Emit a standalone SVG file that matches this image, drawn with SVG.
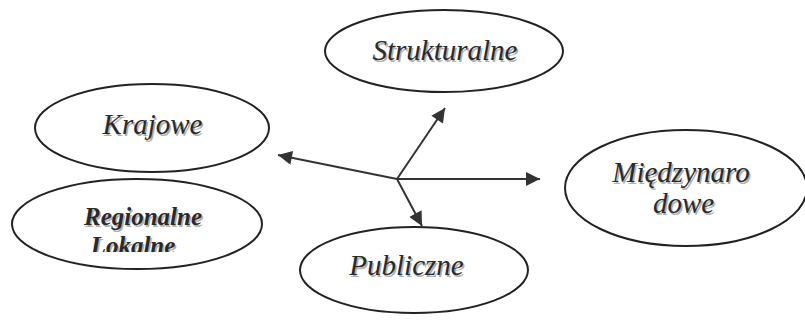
<svg xmlns="http://www.w3.org/2000/svg" width="805" height="321" viewBox="0 0 805 321">
<style>
.node ellipse{fill:#fff;stroke:#222;stroke-width:2}
.conn line{stroke:#333;stroke-width:2}
</style>
<defs>
<marker id="ah" viewBox="0 0 10 10" refX="10" refY="5" markerWidth="8" markerHeight="7" markerUnits="strokeWidth" orient="auto">
<path d="M0,0 L10,5 L0,10 z" fill="#333"/>
</marker>
<clipPath id="clipReg"><rect x="0" y="0" width="805" height="252"/></clipPath>
</defs>
<rect width="805" height="321" fill="#fff"/>
<g id="strukturalne" class="node">
<ellipse cx="444" cy="51" rx="119" ry="41"/>
<text x="446.5" y="61.5" font-family="Liberation Serif" font-style="italic" font-size="29" fill="#b0b0b0" text-anchor="middle" style="font-family:'Liberation Serif',serif">Strukturalne</text>
<text x="445" y="60" font-family="Liberation Serif" font-style="italic" font-size="29" fill="#2a2a2a" text-anchor="middle" style="font-family:'Liberation Serif',serif">Strukturalne</text>
</g>
<g id="krajowe" class="node">
<ellipse cx="152" cy="128" rx="117" ry="44"/>
<text x="154" y="135.5" font-family="Liberation Serif" font-style="italic" font-size="29" fill="#b0b0b0" text-anchor="middle" style="font-family:'Liberation Serif',serif">Krajowe</text>
<text x="152.5" y="134" font-family="Liberation Serif" font-style="italic" font-size="29" fill="#2a2a2a" text-anchor="middle" style="font-family:'Liberation Serif',serif">Krajowe</text>
</g>
<g id="regionalne" class="node">
<ellipse cx="137" cy="224" rx="125" ry="45"/>
<g clip-path="url(#clipReg)">
<text x="144.5" y="226.5" font-family="Liberation Serif" font-style="italic" font-weight="bold" font-size="25" fill="#b0b0b0" text-anchor="middle" style="font-family:'Liberation Serif',serif">Regionalne</text>
<text x="143" y="225" font-family="Liberation Serif" font-style="italic" font-weight="bold" font-size="25" fill="#2a2a2a" text-anchor="middle" style="font-family:'Liberation Serif',serif">Regionalne</text>
<text x="134.5" y="255.5" font-family="Liberation Serif" font-style="italic" font-weight="bold" font-size="25" fill="#b0b0b0" text-anchor="middle" style="font-family:'Liberation Serif',serif">Lokalne</text>
<text x="133" y="254" font-family="Liberation Serif" font-style="italic" font-weight="bold" font-size="25" fill="#2a2a2a" text-anchor="middle" style="font-family:'Liberation Serif',serif">Lokalne</text>
</g>
</g>
<g id="miedzynarodowe" class="node">
<ellipse cx="686" cy="188" rx="121" ry="58"/>
<text x="682.5" y="183.5" font-family="Liberation Serif" font-style="italic" font-size="29" fill="#b0b0b0" text-anchor="middle" style="font-family:'Liberation Serif',serif">Międzynaro</text>
<text x="681" y="182" font-family="Liberation Serif" font-style="italic" font-size="29" fill="#2a2a2a" text-anchor="middle" style="font-family:'Liberation Serif',serif">Międzynaro</text>
<text x="685" y="214.5" font-family="Liberation Serif" font-style="italic" font-size="29" fill="#b0b0b0" text-anchor="middle" style="font-family:'Liberation Serif',serif">dowe</text>
<text x="683.5" y="213" font-family="Liberation Serif" font-style="italic" font-size="29" fill="#2a2a2a" text-anchor="middle" style="font-family:'Liberation Serif',serif">dowe</text>
</g>
<g id="publiczne" class="node">
<ellipse cx="414" cy="270" rx="114" ry="43"/>
<text x="408" y="276.5" font-family="Liberation Serif" font-style="italic" font-size="29" fill="#b0b0b0" text-anchor="middle" style="font-family:'Liberation Serif',serif">Publiczne</text>
<text x="406.5" y="275" font-family="Liberation Serif" font-style="italic" font-size="29" fill="#2a2a2a" text-anchor="middle" style="font-family:'Liberation Serif',serif">Publiczne</text>
</g>
<g id="connectors" class="conn">
<line x1="397" y1="179" x2="278" y2="155" marker-end="url(#ah)"/>
<line x1="397" y1="179" x2="445" y2="108" marker-end="url(#ah)"/>
<line x1="397" y1="179" x2="540" y2="179" marker-end="url(#ah)"/>
<line x1="397" y1="179" x2="422" y2="226" marker-end="url(#ah)"/>
</g>
</svg>
